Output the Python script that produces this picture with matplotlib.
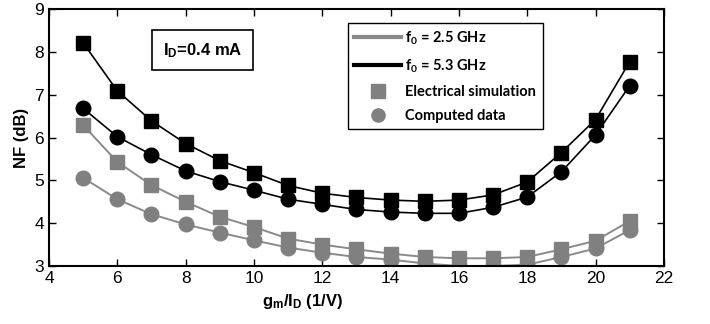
import matplotlib
matplotlib.use('Agg')
import matplotlib.pyplot as plt
from matplotlib.lines import Line2D

plt.rcParams['font.family'] = ['Liberation Sans', 'DejaVu Sans']
plt.rcParams['mathtext.default'] = 'regular'

# gm/ID values
gm_id = [5, 6, 7, 8, 9, 10, 11, 12, 13, 14, 15, 16, 17, 18, 19, 20, 21]

# NF (dB)
sim_53 = [8.21, 7.09, 6.39, 5.86, 5.46, 5.18, 4.88, 4.70, 4.60, 4.54, 4.51, 4.54, 4.66, 4.96, 5.65, 6.42, 7.77]
calc_53 = [6.68, 6.02, 5.60, 5.22, 4.97, 4.77, 4.56, 4.44, 4.32, 4.26, 4.23, 4.23, 4.37, 4.61, 5.20, 6.06, 7.21]
sim_25 = [6.29, 5.43, 4.89, 4.50, 4.15, 3.91, 3.64, 3.50, 3.39, 3.29, 3.21, 3.18, 3.18, 3.21, 3.39, 3.59, 4.05]
calc_25 = [5.06, 4.56, 4.21, 3.97, 3.78, 3.60, 3.43, 3.31, 3.21, 3.15, 3.06, 3.00, 3.00, 3.03, 3.21, 3.41, 3.84]

gray = '#8a8a8a'
black = '#000000'

fig = plt.figure(figsize=(7.1, 3.24), dpi=100)
ax = fig.add_axes([0.069, 0.179, 0.866, 0.793])

ax.plot(gm_id, sim_25, color=gray, lw=1.4, marker='s', ms=10.5, mfc='#808080', mec='#808080', zorder=2)
ax.plot(gm_id, calc_25, color=gray, lw=1.4, marker='o', ms=10.5, mfc='#808080', mec='#808080', zorder=2)
ax.plot(gm_id, sim_53, color=black, lw=1.2, marker='s', ms=10.5, mfc=black, mec=black, zorder=3)
ax.plot(gm_id, calc_53, color=black, lw=1.2, marker='o', ms=10.5, mfc=black, mec=black, zorder=3)

ax.set_xlim(4, 22)
ax.set_ylim(3, 9)
ax.set_xticks(range(4, 23, 2))
ax.set_yticks(range(3, 10))
ax.tick_params(direction='in', top=True, right=True, length=5, width=1, labelsize=12.5)
for s in ax.spines.values():
    s.set_linewidth(1.5)

ax.set_xlabel('g$_m$/I$_D$ (1/V)', fontsize=12, fontweight='bold')
ax.xaxis.set_label_coords(0.413, -0.10)
ax.set_ylabel('NF (dB)', fontsize=12, fontweight='bold', labelpad=4)

ax.text(8.5, 8.04, 'I$_D$=0.4 mA', fontsize=12, fontweight='bold', ha='center', va='center',
        bbox=dict(boxstyle='square,pad=0.65', fc='white', ec='black', lw=1.2))

handles = [
    Line2D([], [], color=gray, lw=3),
    Line2D([], [], color=black, lw=3),
    Line2D([], [], ls='none', marker='s', ms=9.5, color='#808080'),
    Line2D([], [], ls='none', marker='o', ms=9.5, color='#808080'),
]
labels = ['f$_0$ = 2.5 GHz', 'f$_0$ = 5.3 GHz', 'Electrical simulation', 'Computed data']
leg = ax.legend(handles, labels, loc='upper left', bbox_to_anchor=(0.486, 0.946), borderaxespad=0,
                frameon=True, fancybox=False, edgecolor='black', framealpha=1,
                prop={'family': 'Lato', 'weight': 'bold', 'size': 10.5},
                handlelength=3.2, handletextpad=0.3, labelspacing=0.7, borderpad=0.45)
leg.get_frame().set_linewidth(1.0)

fig.savefig('out.png', dpi=100)
